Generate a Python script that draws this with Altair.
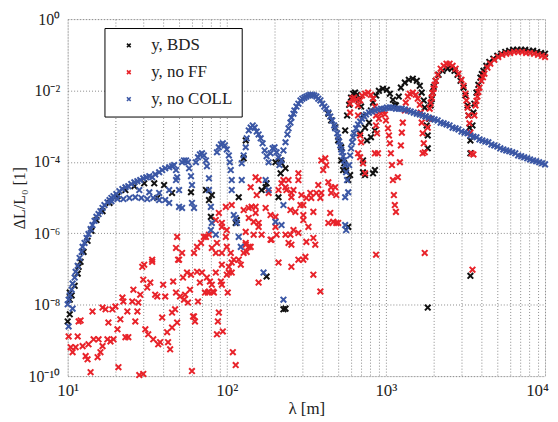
import altair as alt
import pandas as pd

# Series names and colours
series_names = ["y, BDS", "y, no FF", "y, no COLL"]
series_colors = ["#111111", "#e8232a", "#3b57a5"]

# Values, given as [log10(lambda / m), log10(dL/L0)]
bds_points = [
    # low-lambda rising band (mostly hidden under the blue series)
    [1.000, -8.47], [1.013, -7.66], [1.013, -8.27], [1.013, -7.86], [1.025, -7.74], [1.044, -7.47],
    [1.063, -7.13], [1.069, -6.94], [1.081, -6.80], [1.10, -6.52], [1.125, -6.21], [1.15, -5.93],
    [1.181, -5.63], [1.219, -5.38], [1.263, -5.15], [1.313, -4.96], [1.363, -4.79], [1.419, -4.68],
    [1.481, -4.60], [1.544, -4.60], [1.606, -4.65], [1.563, -5.01], [1.656, -4.87], [1.775, -4.85],
    # fringes
    [1.869, -4.79], [1.888, -5.07], [1.906, -4.93], [1.90, -5.54], [2.056, -5.71], [2.063, -5.63],
    [2.075, -4.99], [2.119, -3.40], [2.106, -3.90], [2.244, -4.71], [2.25, -4.60], [2.219, -4.79],
    [2.325, -4.99], [2.306, -4.01], [2.338, -3.96], [2.344, -4.04], [2.369, -4.18], [2.338, -4.32],
    [2.25, -7.21], [2.356, -8.13], [2.369, -8.11],
    # right side of the first big lobe
    [2.638, -2.65], [2.656, -2.84], [2.681, -3.04], [2.70, -3.40], [2.719, -3.59], [2.719, -3.96],
    [2.731, -4.23], [2.738, -4.04], [2.75, -4.23], [2.763, -4.51], [2.775, -4.37], [2.763, -5.82],
    # lobe 1
    [2.744, -3.12], [2.756, -2.70], [2.769, -2.40], [2.781, -2.20], [2.794, -2.09], [2.806, -2.06],
    [2.819, -2.12], [2.831, -2.26], [2.844, -2.45], [2.856, -2.70], [2.869, -3.04], [2.881, -3.40],
    [2.856, -3.96], [2.869, -4.37], [2.931, -4.23], [2.856, -4.29], [2.919, -4.32], [2.838, -3.20],
    # lobe 2
    [2.894, -2.90], [2.906, -2.56], [2.919, -2.34], [2.938, -2.14], [2.956, -2.01], [2.981, -1.95],
    [3.006, -1.98], [3.025, -2.09], [3.044, -2.26], [3.056, -2.40], [3.063, -2.42],
    [2.906, -3.31], [2.931, -3.12],
    # lobe 3
    [3.081, -2.17], [3.094, -1.92], [3.119, -1.78], [3.144, -1.70], [3.169, -1.67], [3.194, -1.73],
    [3.213, -1.87], [3.225, -2.06], [3.238, -2.28], [3.244, -2.48], [3.25, -2.73], [3.256, -2.98],
    [3.263, -3.26], [3.263, -3.62], [3.263, -8.08],
    # lobe 4
    [3.275, -2.79], [3.281, -2.42], [3.288, -2.24], [3.294, -2.06], [3.30, -1.90], [3.313, -1.73],
    [3.331, -1.56], [3.356, -1.45], [3.388, -1.39], [3.413, -1.39], [3.431, -1.45], [3.45, -1.56],
    [3.469, -1.73], [3.488, -1.92], [3.50, -2.14], [3.513, -2.42], [3.519, -2.70], [3.525, -3.04],
    [3.531, -3.40], [3.531, -3.76], [3.531, -7.19],
    # lobe 5
    [3.544, -2.98], [3.55, -2.62], [3.556, -2.37], [3.569, -2.06], [3.581, -1.84], [3.594, -1.64],
    [3.603, -1.54], [3.613, -1.45], [3.631, -1.31], [3.65, -1.20], [3.675, -1.11], [3.70, -1.03],
    [3.725, -0.97], [3.75, -0.92], [3.775, -0.89], [3.80, -0.86], [3.825, -0.86], [3.85, -0.86],
    [3.875, -0.86], [3.90, -0.89], [3.925, -0.89], [3.95, -0.92], [3.975, -0.95], [4.0, -0.97],
]

noff_points = [
    # scattered low values
    [1.069, -8.47], [1.081, -8.44], [1.063, -8.89], [1.006, -8.89], [1.019, -9.19], [1.05, -9.19],
    [1.031, -9.33], [1.094, -9.16], [1.113, -9.44], [1.125, -9.53], [1.144, -9.89], [1.131, -9.11],
    [1.156, -8.19], [1.163, -8.97], [1.188, -9.47], [1.194, -8.97], [1.206, -9.33], [1.219, -9.16],
    [1.219, -8.08], [1.238, -8.13], [1.25, -8.97], [1.256, -8.50], [1.269, -9.03], [1.281, -8.13],
    [1.288, -8.97], [1.30, -8.05], [1.313, -8.69], [1.319, -9.75], [1.331, -8.41], [1.344, -7.80],
    [1.35, -7.91], [1.363, -8.91], [1.375, -8.19], [1.381, -8.91], [1.406, -7.91], [1.413, -7.58],
    [1.425, -8.47], [1.438, -8.19], [1.444, -7.94], [1.456, -7.72], [1.469, -6.94], [1.475, -9.94],
    [1.488, -8.69], [1.475, -7.30], [1.50, -7.52], [1.506, -8.83], [1.519, -7.38], [1.531, -6.74],
    [1.538, -8.97], [1.55, -7.72], [1.563, -7.77], [1.569, -9.11], [1.581, -9.05], [1.594, -8.36],
    [1.60, -7.44], [1.613, -7.77], [1.625, -8.77], [1.631, -9.05], [1.644, -9.25], [1.656, -8.64],
    [1.663, -7.35], [1.675, -8.13], [1.688, -8.50], [1.694, -6.74], [1.706, -7.77], [1.725, -7.24],
    [1.738, -7.72], [1.75, -7.10], [1.756, -7.94], [1.769, -7.58], [1.781, -9.86], [1.788, -8.33],
    [1.80, -8.47], [1.813, -7.08], [1.819, -7.91], [1.831, -7.38], [1.844, -7.10], [1.863, -7.66],
    [1.875, -7.24], [1.881, -7.66], [1.894, -7.35], [1.913, -7.63], [1.938, -8.83], [1.944, -8.47],
    [1.969, -7.44], [1.975, -8.75], [2.0, -7.16], [2.006, -7.66], [2.031, -7.10], [2.038, -9.33],
    [1.45, -9.97], [2.056, -9.69], [2.20, -7.38],
    # scattered middle values
    [1.481, -6.88], [1.531, -6.80], [1.688, -6.10], [1.681, -6.41], [1.719, -6.55], [1.794, -6.55],
    [1.70, -6.74], [1.775, -7.16], [1.869, -6.10], [1.906, -6.41], [1.931, -6.55], [1.969, -5.82],
    [1.994, -6.10], [2.025, -6.55], [2.031, -6.82], [2.088, -6.88], [2.119, -6.27], [2.138, -6.38],
    [2.15, -4.71], [2.181, -4.43], [2.188, -4.93], [2.20, -4.51], [2.156, -5.26], [2.181, -5.43],
    [2.20, -5.82], [2.219, -6.04], [2.263, -4.87], [2.281, -6.18], [2.306, -5.82], [2.313, -6.04],
    [2.325, -4.79], [2.369, -4.71], [2.388, -4.51], [2.406, -4.87], [2.431, -5.40], [2.45, -4.51],
    [2.45, -5.99], [2.481, -5.63], [2.50, -5.01], [2.419, -5.91], [2.388, -6.27], [2.325, -6.82],
    [2.406, -6.94], [2.45, -6.74], [2.494, -6.66], [1.969, -6.88], [2.044, -6.74], [1.994, -5.26],
    [2.031, -5.21], [2.106, -5.35], [2.138, -5.29], [2.181, -5.26], [2.244, -5.29], [2.275, -5.49],
    [2.306, -5.54], [2.138, -5.57], [2.169, -5.68], [2.20, -5.71], [2.275, -6.18], [2.169, -6.04],
    [2.15, -6.38], [2.125, -6.52], [2.106, -6.55], [2.075, -6.74], [2.013, -6.94], [2.013, -7.10],
    [1.888, -7.63], [1.906, -7.44], [1.963, -7.35], [1.931, -7.10], [1.919, -7.66], [1.838, -6.27],
    [1.813, -6.38], [1.856, -6.10], [1.888, -6.04], [1.931, -5.63], [1.95, -5.43], [1.969, -5.71],
    [2.0, -5.91], [1.938, -6.27], [1.969, -6.55], [2.0, -6.38], [2.119, -5.96], [2.119, -6.32],
    [1.95, -8.22], [1.794, -8.33], [1.656, -8.22], [1.681, -7.66], [1.731, -7.86],
    [2.594, -3.96], [2.619, -3.90], [2.606, -4.23], [2.625, -4.09], [2.45, -4.32], [2.356, -4.51],
    [2.344, -4.60], [2.375, -4.79], [2.419, -4.79], [2.406, -4.99], [2.469, -4.93], [2.525, -4.87],
    [2.563, -4.87], [2.575, -4.65], [2.594, -4.87], [2.638, -4.57], [2.656, -4.71], [2.656, -4.87],
    [2.681, -4.71], [2.688, -4.93], [2.588, -5.01], [2.531, -5.01], [2.481, -5.21], [2.463, -5.21],
    [2.40, -5.35], [2.481, -5.49], [2.544, -5.40], [2.65, -5.43], [2.669, -5.68], [2.638, -5.71],
    [2.688, -5.71], [2.513, -5.82], [2.369, -6.04], [2.40, -6.04], [2.406, -6.32], [2.50, -6.24],
    [2.544, -6.13], [2.556, -6.32], [2.481, -6.74], [2.544, -7.16], [2.588, -7.63], [2.70, -5.71],
    # lobe 1
    [2.775, -2.62], [2.775, -2.37], [2.788, -2.23], [2.80, -2.20], [2.813, -2.26], [2.825, -2.42],
    [2.825, -2.70], [2.838, -2.28], [2.85, -2.14], [2.869, -2.09], [2.888, -2.06], [2.906, -2.12],
    [2.919, -2.23], [2.931, -2.45], [2.938, -2.70], [2.938, -2.98], [2.944, -3.20],
    [2.838, -3.26], [2.844, -3.45], [2.825, -3.76], [2.838, -3.87], [2.856, -4.04], [2.869, -4.32],
    # lobe 2
    [2.956, -2.79], [2.969, -2.65], [2.981, -2.56], [2.994, -2.67], [3.0, -2.84], [3.013, -3.06],
    [3.019, -3.26], [3.025, -3.48], [3.031, -3.76], [3.038, -4.09], [3.044, -4.51], [3.05, -4.93],
    [3.056, -5.21], [3.063, -5.40], [2.938, -6.60], [2.931, -3.76], [2.95, -3.76],
    # lobe 3
    [3.075, -4.43], [3.088, -4.01], [3.094, -3.54], [3.10, -3.18], [3.106, -2.90], [3.119, -2.56],
    [3.125, -2.34], [3.138, -2.17], [3.15, -2.09], [3.169, -2.06], [3.188, -2.12], [3.20, -2.23],
    [3.213, -2.40], [3.219, -2.62], [3.225, -2.90], [3.231, -3.20], [3.238, -3.48], [3.244, -3.73],
    [3.231, -3.76], [3.244, -6.55],
    # lobe 4
    [3.263, -3.04], [3.269, -2.79], [3.275, -2.51], [3.281, -2.35], [3.288, -2.20], [3.294, -2.07],
    [3.30, -1.95], [3.306, -1.84], [3.313, -1.73], [3.325, -1.56], [3.344, -1.39], [3.363, -1.31],
    [3.381, -1.25], [3.40, -1.25], [3.419, -1.31], [3.438, -1.39], [3.456, -1.53], [3.475, -1.70],
    [3.488, -1.87], [3.50, -2.09], [3.506, -2.28], [3.513, -2.48], [3.519, -2.70], [3.525, -2.92],
    [3.531, -3.18], [3.538, -3.76], [3.55, -3.79], [3.544, -7.02],
    # lobe 5
    [3.556, -2.70], [3.563, -2.42], [3.569, -2.29], [3.575, -2.17], [3.581, -2.04], [3.588, -1.92],
    [3.60, -1.73], [3.61, -1.63], [3.619, -1.53], [3.638, -1.36], [3.656, -1.25], [3.681, -1.14],
    [3.706, -1.06], [3.731, -1.00], [3.756, -0.97], [3.781, -0.95], [3.806, -0.92], [3.831, -0.92],
    [3.856, -0.92], [3.881, -0.95], [3.906, -0.95], [3.931, -0.97], [3.956, -1.00], [3.981, -1.03],
    [4.0, -1.06],
]

nocoll_points = [
    # rising band
    [1.000, -7.99], [1.006, -7.86], [1.013, -7.74], [1.025, -7.58], [1.031, -7.41], [1.044, -7.24],
    [1.050, -7.08], [1.063, -6.91], [1.075, -6.69], [1.088, -6.52], [1.094, -6.38], [1.106, -6.27],
    [1.119, -6.13], [1.131, -6.02], [1.144, -5.88], [1.156, -5.77], [1.169, -5.65], [1.181, -5.54],
    [1.194, -5.46], [1.206, -5.38], [1.219, -5.29], [1.231, -5.21], [1.25, -5.13], [1.263, -5.07],
    [1.275, -5.01], [1.288, -4.96], [1.306, -4.90], [1.325, -4.82], [1.344, -4.76], [1.363, -4.71],
    [1.381, -4.68], [1.40, -4.62], [1.419, -4.57], [1.438, -4.54], [1.456, -4.51], [1.475, -4.46],
    [1.031, -8.11], [1.006, -8.61],
    [1.275, -5.10], [1.313, -5.04], [1.35, -5.04], [1.388, -5.01], [1.425, -4.99], [1.463, -5.01],
    [1.50, -5.04], [1.538, -5.01], [1.575, -5.07], [1.613, -5.07], [1.638, -5.15],
    [1.45, -4.79], [1.513, -4.85], [1.575, -4.87], [1.638, -4.79], [1.681, -4.51],
    # fringes
    [1.494, -4.43], [1.513, -4.40], [1.531, -4.43], [1.55, -4.35], [1.575, -4.29], [1.594, -4.23],
    [1.613, -4.18], [1.638, -4.15], [1.656, -4.12], [1.669, -4.09], [1.681, -4.23], [1.688, -4.43],
    [1.70, -4.79], [1.70, -5.26], [1.719, -5.29], [1.719, -4.01], [1.731, -3.96], [1.744, -3.96],
    [1.756, -4.01], [1.763, -4.18], [1.775, -4.40], [1.781, -4.65], [1.781, -5.15], [1.794, -5.29],
    [1.806, -4.01], [1.819, -3.87], [1.831, -3.79], [1.844, -3.76], [1.856, -3.82], [1.869, -3.96],
    [1.875, -4.12], [1.888, -4.46], [1.888, -4.79], [1.90, -5.26], [1.906, -5.71], [1.90, -5.91],
    [1.931, -6.04], [1.938, -3.73], [1.95, -3.59], [1.963, -3.51], [1.975, -3.48], [1.988, -3.54],
    [2.0, -3.65], [2.013, -3.82], [2.019, -4.01], [2.025, -4.23], [2.031, -4.51], [2.031, -4.79],
    [2.044, -5.49], [2.056, -5.57], [2.063, -5.71], [2.075, -6.10], [2.088, -6.38], [2.094, -4.51],
    [2.094, -4.04], [2.106, -3.82], [2.119, -3.59], [2.125, -3.34], [2.138, -3.12], [2.15, -3.04],
    [2.163, -2.98], [2.175, -3.04], [2.188, -3.15], [2.20, -3.23], [2.213, -3.34], [2.225, -3.48],
    [2.238, -3.68], [2.25, -3.84], [2.263, -4.01], [2.263, -4.79], [2.275, -3.76], [2.288, -3.62],
    [2.30, -3.59], [2.313, -3.73], [2.325, -3.87], [2.331, -4.09], [2.231, -7.10], [2.344, -5.77],
    [2.356, -7.86], [2.244, -4.51], [2.306, -5.68], [2.356, -5.21],
    # big lobe
    [2.344, -3.96], [2.356, -3.68], [2.369, -3.45], [2.381, -3.23], [2.388, -3.06], [2.40, -2.90],
    [2.406, -2.76], [2.419, -2.65], [2.425, -2.56], [2.438, -2.45], [2.45, -2.37], [2.463, -2.28],
    [2.475, -2.23], [2.488, -2.20], [2.50, -2.17], [2.513, -2.14], [2.525, -2.12], [2.538, -2.12],
    [2.55, -2.14], [2.563, -2.17], [2.575, -2.23], [2.588, -2.28], [2.60, -2.37], [2.613, -2.45],
    [2.625, -2.51], [2.638, -2.62], [2.65, -2.73], [2.663, -2.84], [2.675, -2.98], [2.681, -3.06],
    [2.694, -3.20], [2.70, -3.31], [2.706, -3.43], [2.713, -3.54], [2.719, -3.65], [2.725, -3.73],
    [2.731, -3.84], [2.738, -3.96], [2.744, -4.09], [2.75, -4.29], [2.756, -4.51], [2.763, -4.85],
    [2.744, -4.99], [2.744, -5.77], [2.75, -5.91],
    # smooth tail
    [2.769, -4.09], [2.775, -3.82], [2.781, -3.62], [2.788, -3.45], [2.794, -3.31], [2.80, -3.20],
    [2.813, -3.06], [2.825, -2.95], [2.838, -2.87], [2.85, -2.79], [2.863, -2.73], [2.875, -2.67],
    [2.894, -2.62], [2.913, -2.59], [2.931, -2.56], [2.95, -2.53], [2.969, -2.51], [2.988, -2.51],
    [3.006, -2.48], [3.025, -2.48], [3.044, -2.48], [3.063, -2.51], [3.081, -2.51], [3.10, -2.51],
    [3.119, -2.53], [3.138, -2.56], [3.156, -2.59], [3.175, -2.62], [3.194, -2.65], [3.213, -2.67],
    [3.231, -2.70], [3.25, -2.73], [3.269, -2.76], [3.288, -2.79], [3.306, -2.81], [3.325, -2.84],
    [3.344, -2.90], [3.363, -2.92], [3.381, -2.95], [3.40, -2.98], [3.419, -3.04], [3.438, -3.06],
    [3.456, -3.09], [3.475, -3.15], [3.494, -3.18], [3.513, -3.20], [3.531, -3.26], [3.55, -3.29],
    [3.569, -3.31], [3.588, -3.37], [3.606, -3.40], [3.625, -3.43], [3.644, -3.45], [3.663, -3.51],
    [3.681, -3.54], [3.70, -3.57], [3.719, -3.62], [3.738, -3.65], [3.756, -3.68], [3.775, -3.70],
    [3.794, -3.73], [3.813, -3.76], [3.831, -3.82], [3.85, -3.84], [3.869, -3.87], [3.888, -3.90],
    [3.906, -3.93], [3.925, -3.96], [3.944, -3.98], [3.963, -4.01], [3.981, -4.04], [4.0, -4.07],
]

# Axis ticks
x_tick_values = [10, 20, 30, 40, 50, 60, 70, 80, 90,
                 100, 200, 300, 400, 500, 600, 700, 800, 900,
                 1000, 2000, 3000, 4000, 5000, 6000, 7000, 8000, 9000, 10000]
y_tick_values = [1e-10, 1e-8, 1e-6, 1e-4, 1e-2, 1]

rows = []
for name, pts in zip(series_names, [bds_points, noff_points, nocoll_points]):
    for lx, ly in pts:
        rows.append({"series": name, "lam": 10 ** lx, "dl": 10 ** ly})
df = pd.DataFrame(rows)

FONT = "Liberation Serif"
XSHAPE = "M-1,-1L1,1M-1,1L1,-1"

x_label_expr = ("datum.value == 10 ? '10¹' : datum.value == 100 ? '10²' : "
                "datum.value == 1000 ? '10³' : datum.value == 10000 ? '10⁴' : ''")
y_label_expr = ("datum.value > 0.5 ? '10⁰' : datum.value > 0.005 ? '10⁻²' : "
                "datum.value > 0.00005 ? '10⁻⁴' : datum.value > 0.0000005 ? '10⁻⁶' : "
                "datum.value > 0.000000005 ? '10⁻⁸' : '10⁻¹⁰'")

chart = alt.Chart(df).mark_point(
    shape=XSHAPE, filled=False, size=32, strokeWidth=2, opacity=1
).encode(
    x=alt.X("lam:Q",
            scale=alt.Scale(type="log", domain=[10, 10000], nice=False),
            axis=alt.Axis(values=x_tick_values, labelExpr=x_label_expr, title="λ [m]",
                          grid=True, gridDash=[1, 2], gridColor="#8a8a8a", gridWidth=1,
                          ticks=False, domain=False, labelFont=FONT, labelFontSize=17,
                          labelColor="#222", titleFont=FONT, titleFontSize=17,
                          titleFontWeight="normal", titleColor="#222",
                          labelOffset={"condition": {"test": "datum.value == 10000", "value": -8},
                                       "value": 0},
                          labelPadding=7, titlePadding=2, labelOverlap=False, labelFlush=False)),
    y=alt.Y("dl:Q",
            scale=alt.Scale(type="log", domain=[1e-10, 1], nice=False),
            axis=alt.Axis(values=y_tick_values, labelExpr=y_label_expr, title="ΔL/L₀ [1]",
                          grid=True, gridDash=[1, 2], gridColor="#8a8a8a", gridWidth=1,
                          ticks=False, domain=False, labelFont=FONT, labelFontSize=16,
                          labelColor="#222", titleFont=FONT, titleFontSize=16,
                          titleFontWeight="normal", titleColor="#222",
                          labelPadding=8, titlePadding=1, labelOverlap=False, labelFlush=False)),
    color=alt.Color("series:N",
                    scale=alt.Scale(domain=series_names, range=series_colors),
                    legend=alt.Legend(orient="none", legendX=37, legendY=9, title=None,
                                      strokeColor="black", fillColor="white", padding=9,
                                      symbolType=XSHAPE, symbolSize=14, symbolStrokeWidth=1.6,
                                      labelFont=FONT, labelFontSize=17, labelColor="#222",
                                      rowPadding=9, symbolOffset=7, labelOffset=14,
                                      cornerRadius=0)),
).properties(
    width=480, height=359,
    padding={"left": 60, "top": 10, "right": 5, "bottom": 44},
    autosize=alt.AutoSizeParams(type="none"),
).configure_view(
    stroke="black", strokeWidth=1.2
).configure(background="white")

chart.save("out.html", embed_options={"renderer": "svg", "actions": False})
